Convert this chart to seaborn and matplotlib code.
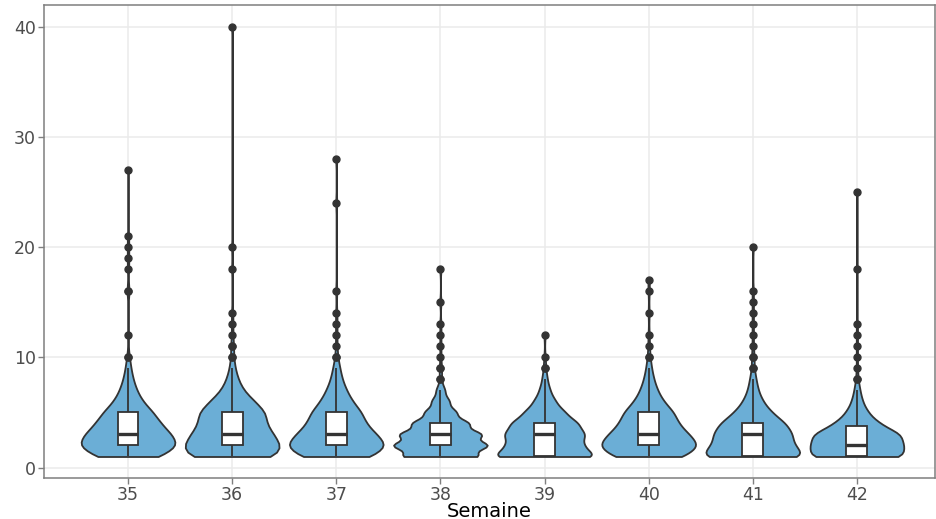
import numpy as np
import pandas as pd
import matplotlib
matplotlib.use("Agg")
import matplotlib.pyplot as plt
import seaborn as sns

# Weeks shown on the x axis
weeks = ["35", "36", "37", "38", "39", "40", "41", "42"]

# Counts per integer value (starting at 1) for the bulk of each week,
# plus the isolated high values that show up as outlier points
w35_counts = [45, 70, 60, 45, 35, 20, 12, 7, 4]
w35_high = [10, 10, 12, 16, 16, 18, 19, 20, 21, 27]
w36_counts = [60, 65, 55, 45, 45, 30, 15, 8, 4]
w36_high = [10, 10, 11, 11, 12, 13, 14, 18, 20, 40]
w37_counts = [50, 70, 55, 40, 35, 22, 14, 8, 5]
w37_high = [10, 10, 11, 12, 13, 14, 16, 24, 28]
w38_counts = [60, 75, 65, 45, 25, 14, 7]
w38_high = [8, 8, 9, 9, 10, 11, 12, 13, 15, 18]
w39_counts = [80, 55, 60, 50, 30, 16, 8, 4]
w39_high = [9, 9, 10, 12]
w40_counts = [50, 70, 55, 40, 35, 20, 12, 7, 4]
w40_high = [10, 10, 11, 12, 14, 16, 17]
w41_counts = [85, 60, 60, 50, 28, 15, 8, 5]
w41_high = [9, 9, 10, 10, 11, 12, 13, 14, 15, 16, 20]
w42_counts = [80, 75, 74, 36, 18, 9, 5]
w42_high = [8, 8, 9, 10, 11, 12, 13, 18, 25]

all_counts = [w35_counts, w36_counts, w37_counts, w38_counts,
              w39_counts, w40_counts, w41_counts, w42_counts]
all_high = [w35_high, w36_high, w37_high, w38_high,
            w39_high, w40_high, w41_high, w42_high]

rows = []
for wk, cnt, high in zip(weeks, all_counts, all_high):
    vals = np.repeat(np.arange(1, len(cnt) + 1), cnt)
    vals = np.concatenate([vals, high])
    rows.append(pd.DataFrame({"Semaine": wk, "value": vals}))
df = pd.concat(rows, ignore_index=True)


# R-style nrd0 bandwidth, expressed as a factor of the data std for scipy
def nrd0_factor(kde):
    x = kde.dataset.ravel()
    sd = x.std(ddof=1)
    iqr = np.subtract(*np.percentile(x, [75, 25]))
    lo = min(sd, iqr / 1.34) if iqr > 0 else sd
    bw = 0.9 * lo * len(x) ** -0.2
    return bw / sd


fill = "#6baed6"
dark = "#333333"

fig = plt.figure(figsize=(9.37, 5.19), dpi=100)
ax = fig.add_axes([44 / 937, 1 - 478 / 519, (935 - 44) / 937, (478 - 5) / 519])

sns.violinplot(data=df, x="Semaine", y="value", order=weeks, ax=ax,
               cut=0, inner=None, density_norm="width", width=0.9,
               bw_method=nrd0_factor, color=fill, saturation=1,
               linecolor=dark, linewidth=1.3)

sns.boxplot(data=df, x="Semaine", y="value", order=weeks, ax=ax,
            width=0.2, color="white", saturation=1, linecolor=dark,
            linewidth=1.3, showcaps=False,
            medianprops={"linewidth": 2.4, "color": dark},
            flierprops={"marker": "o", "markersize": 5,
                        "markerfacecolor": dark, "markeredgecolor": dark})

ax.set_xlim(-0.807, 7.75)
ax.set_ylim(-0.95, 41.95)
ax.set_yticks([0, 10, 20, 30, 40])
ax.set_facecolor("white")
ax.grid(True, color="#ebebeb", linewidth=1.1)
ax.set_axisbelow(True)
for s in ax.spines.values():
    s.set_color("#7f7f7f")
    s.set_linewidth(1.1)
ax.tick_params(direction="out", length=4, width=1, color="#7f7f7f",
               labelcolor="#4d4d4d", labelsize=12.5, pad=2)
ax.set_ylabel("")
ax.set_xlabel("Semaine", fontsize=14, color="black", labelpad=-2)

fig.savefig("out.png", dpi=100)
